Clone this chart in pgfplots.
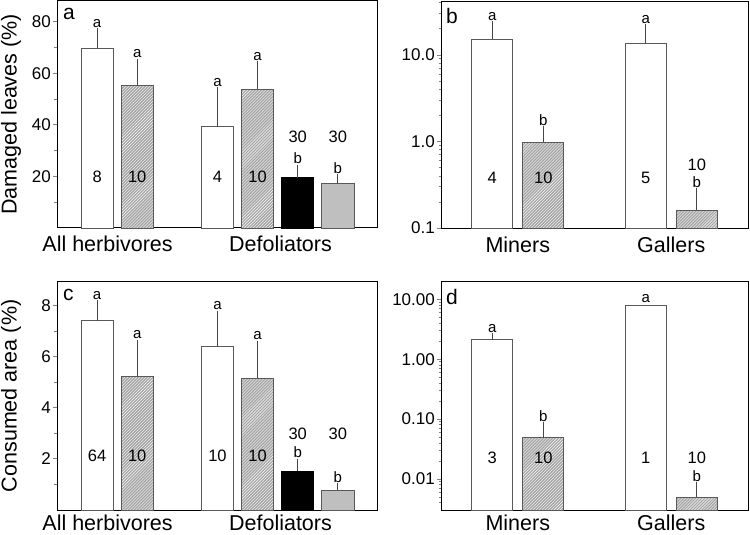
\documentclass[border=0pt]{standalone}
\usepackage{pgfplots}
\pgfplotsset{compat=1.18}
\usepackage{fontspec}
\setmainfont{Liberation Sans}
\usetikzlibrary{patterns}
\newcommand\fs[1]{\fontsize{#1bp}{#1bp}\selectfont}
\pgfplotsset{
  panel/.style={
    scale only axis, anchor=north west, clip=false,
    enlargelimits=false,
    axis line style={black, line width=1bp},
    tick align=outside, ytick pos=left, xtick pos=bottom,
    major tick length=4bp, minor tick length=2.5bp,
    tick style={gray, line width=0.8bp},
    /pgf/number format/assume math mode=true,
    yticklabel style={font=\fs{17}, inner sep=2bp},
    xticklabel style={font=\fs{21.5}, anchor=base, yshift=-20bp},
    xtick style={draw=none},
    ylabel style={font=\fs{21.5}, anchor=center},
    ybar, bar shift=0pt, bar width=0.8,
    error bars/y dir=plus, error bars/y explicit,
    error bars/error bar style={draw=gray!55!black, line width=1.2bp},
    error bars/error mark options={draw=gray!55!black, line width=1.2bp, mark size=2.5bp},
  },
  lower/.style={xticklabel style={yshift=3.5bp}},
  wbar/.style={fill=white, draw=gray!70!black, line width=0.8bp},
  hbar/.style={fill=gray!70, draw=gray!70!black, line width=0.8bp, postaction={pattern=north east lines, pattern color=white}},
  kbar/.style={fill=black, draw=black, line width=0.8bp},
  gbar/.style={fill=gray!50, draw=gray!70!black, line width=0.8bp},
}
\tikzset{
  lab/.style={font=\fs{15}, anchor=base, inner sep=0pt, yshift=3.5bp},
  num/.style={font=\fs{16.5}, inner sep=0pt},
  pl/.style={font=\fs{21}, anchor=north west, inner sep=0pt},
}
\begin{document}
\begin{tikzpicture}
\useasboundingbox (0,0) rectangle (750bp,-535bp);
% ---------------- panel a
\begin{axis}[panel, at={(57bp,-1bp)}, width=321bp, height=227bp,
  xmin=0, xmax=8, ymin=0, ymax=88,
  ytick={20,40,60,80}, minor ytick={10,30,50,70},
  xtick={1.26,5.57}, xticklabels={All herbivores, Defoliators},
  ylabel={Damaged leaves (\%)},
  ylabel style={at={(axis description cs:-0.143,0.5)}}]
\addplot[wbar] coordinates {(1,69.8) +- (0,6.7)};
\addplot[hbar] coordinates {(2,55.1) +- (0,9.5)};
\addplot[wbar] coordinates {(4,39.2) +- (0,14.4)};
\addplot[hbar] coordinates {(5,53.8) +- (0,9.8)};
\addplot[kbar] coordinates {(6,19.5) +- (0,4.0)};
\addplot[gbar] coordinates {(7,17.2) +- (0,2.7)};
\node[lab] at (axis cs:1,76.5) {a};
\node[lab] at (axis cs:2,64.6) {a};
\node[lab] at (axis cs:4,53.6) {a};
\node[lab] at (axis cs:5,63.6) {a};
\node[lab] at (axis cs:6,23.5) {b};
\node[lab] at (axis cs:7,19.9) {b};
\node[num] at (axis cs:1,20) {8};
\node[num] at (axis cs:2,20) {10};
\node[num] at (axis cs:4,20) {4};
\node[num] at (axis cs:5,20) {10};
\node[num] at (axis cs:6,35.4) {30};
\node[num] at (axis cs:7,35.4) {30};
\node[pl] at ([xshift=6bp,yshift=-7bp]rel axis cs:0,1) {a};
\end{axis}
% ---------------- panel b
\begin{axis}[panel, at={(441bp,-1bp)}, width=307bp, height=227bp,
  ymode=log, log origin y=infty,
  xmin=0, xmax=6, ymin=0.1, ymax=42,
  ytick={0.1,1,10}, yticklabels={0.1,1.0,10.0},
  minor ytick={0.2,0.3,0.4,0.5,0.6,0.7,0.8,0.9,2,3,4,5,6,7,8,9,20,30,40},
  xtick={1.5,4.5}, xticklabels={Miners, Gallers}]
\addplot[wbar] coordinates {(1,15.2) +- (0,7.8)};
\addplot[hbar] coordinates {(2,0.98) +- (0,0.42)};
\addplot[wbar] coordinates {(4,13.7) +- (0,7.4)};
\addplot[hbar] coordinates {(5,0.16) +- (0,0.11)};
\node[lab] at (axis cs:1,23) {a};
\node[lab] at (axis cs:2,1.4) {b};
\node[lab] at (axis cs:4,21.1) {a};
\node[lab] at (axis cs:5,0.27) {b};
\node[num] at (axis cs:1,0.38) {4};
\node[num] at (axis cs:2,0.38) {10};
\node[num] at (axis cs:4,0.38) {5};
\node[num] at (axis cs:5,0.54) {10};
\node[pl] at ([xshift=5bp,yshift=-7bp]rel axis cs:0,1) {b};
\end{axis}
% ---------------- panel c
\begin{axis}[panel, lower, at={(57bp,-281.7bp)}, width=321bp, height=228.3bp,
  xmin=0, xmax=8, ymin=0, ymax=8.93,
  ytick={2,4,6,8}, minor ytick={1,3,5,7},
  xtick={1.26,5.57}, xticklabels={All herbivores, Defoliators},
  ylabel={Consumed area (\%)},
  ylabel style={at={(axis description cs:-0.143,0.5)}}]
\addplot[wbar] coordinates {(1,7.40) +- (0,0.70)};
\addplot[hbar] coordinates {(2,5.21) +- (0,1.35)};
\addplot[wbar] coordinates {(4,6.39) +- (0,1.30)};
\addplot[hbar] coordinates {(5,5.15) +- (0,1.37)};
\addplot[kbar] coordinates {(6,1.52) +- (0,0.39)};
\addplot[gbar] coordinates {(7,0.77) +- (0,0.17)};
\node[lab] at (axis cs:1,8.10) {a};
\node[lab] at (axis cs:2,6.56) {a};
\node[lab] at (axis cs:4,7.69) {a};
\node[lab] at (axis cs:5,6.52) {a};
\node[lab] at (axis cs:6,1.91) {b};
\node[lab] at (axis cs:7,0.94) {b};
\node[num] at (axis cs:1,2.12) {64};
\node[num] at (axis cs:2,2.12) {10};
\node[num] at (axis cs:4,2.12) {10};
\node[num] at (axis cs:5,2.12) {10};
\node[num] at (axis cs:6,2.99) {30};
\node[num] at (axis cs:7,2.99) {30};
\node[pl] at ([xshift=6bp,yshift=-7bp]rel axis cs:0,1) {c};
\end{axis}
% ---------------- panel d
\begin{axis}[panel, lower, at={(441bp,-281.7bp)}, width=307bp, height=228.3bp,
  ymode=log, log origin y=infty,
  xmin=0, xmax=6, ymin=0.00304, ymax=19.6,
  ytick={0.01,0.1,1,10}, yticklabels={0.01,0.10,1.00,10.00},
  minor ytick={0.004,0.005,0.006,0.007,0.008,0.009,0.02,0.03,0.04,0.05,0.06,0.07,0.08,0.09,0.2,0.3,0.4,0.5,0.6,0.7,0.8,0.9,2,3,4,5,6,7,8,9},
  xtick={1.5,4.5}, xticklabels={Miners, Gallers}]
\addplot[wbar] coordinates {(1,2.1) +- (0,0.34)};
\addplot[hbar] coordinates {(2,0.049) +- (0,0.031)};
\addplot[wbar] coordinates {(4,7.8)};
\addplot[hbar] coordinates {(5,0.005) +- (0,0.003)};
\node[lab] at (axis cs:1,2.44) {a};
\node[lab] at (axis cs:2,0.080) {b};
\node[lab] at (axis cs:4,7.8) {a};
\node[lab] at (axis cs:5,0.008) {b};
\node[num] at (axis cs:1,0.023) {3};
\node[num] at (axis cs:2,0.023) {10};
\node[num] at (axis cs:4,0.023) {1};
\node[num] at (axis cs:5,0.023) {10};
\node[pl] at ([xshift=5bp,yshift=-7bp]rel axis cs:0,1) {d};
\end{axis}
\end{tikzpicture}
\end{document}
